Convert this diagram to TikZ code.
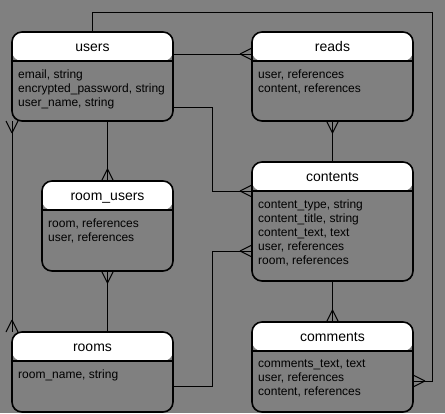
\documentclass[tikz,border=0pt]{standalone}
\usepackage{fontspec}
\setmainfont{Liberation Sans}
\definecolor{bggray}{RGB}{128,128,128}
\tikzset{
	tbl/.style={draw, line width=1.6pt, rounded corners=10pt, anchor=north west, inner sep=0pt, outer sep=0pt, minimum width=161pt,
		path picture={
			\fill[white] (path picture bounding box.north west) rectangle ([yshift=-29pt]path picture bounding box.north east);
			\draw[line width=1.6pt] ([yshift=-29pt]path picture bounding box.north west) -- ([yshift=-29pt]path picture bounding box.north east);
		}},
	ttl/.style={anchor=base, inner sep=0pt, font=\fontsize{14}{17}\selectfont},
	fld/.style={anchor=north west, align=left, inner sep=0pt, font=\fontsize{12}{14}\selectfont},
	link/.style={line width=1pt},
	crow/.pic={\draw[line width=1pt] (-12,0) -- (0,6) (-12,0) -- (0,-6);}
}
\begin{document}
\begin{tikzpicture}[x=1pt, y=-1pt]
		\fill[bggray] (0,0) rectangle (445,413);
		
		\node[tbl, minimum height=89pt] (users) at (12,32) {};
		\node[tbl, minimum height=89pt] (reads) at (252,32) {};
		\node[tbl, minimum width=131pt, minimum height=90pt] (roomusers) at (42,181) {};
		\node[tbl, minimum height=119pt] (contents) at (252,162) {};
		\node[tbl, minimum height=80pt] (rooms) at (12,332) {};
		\node[tbl, minimum height=90pt] (comments) at (252,322) {};
		
		\node[ttl] (usersT) at ([yshift=-19pt]users.north) {users};
		\node[ttl] (readsT) at ([yshift=-19pt]reads.north) {reads};
		\node[ttl] (roomusersT) at ([yshift=-19pt]roomusers.north) {room\_users};
		\node[ttl] (contentsT) at ([yshift=-19pt]contents.north) {contents};
		\node[ttl] (roomsT) at ([yshift=-19pt]rooms.north) {rooms};
		\node[ttl] (commentsT) at ([yshift=-19pt]comments.north) {comments};
		
		\node[fld] (usersF) at ([shift={(6pt,-37.9pt)}]users.north west) {email, string\\encrypted\_password, string\\user\_name, string};
		\node[fld] (readsF) at ([shift={(6pt,-37.9pt)}]reads.north west) {user, references\\content, references};
		\node[fld] (roomusersF) at ([shift={(6pt,-37.9pt)}]roomusers.north west) {room, references\\user, references};
		\node[fld] (contentsF) at ([shift={(6pt,-37.9pt)}]contents.north west) {content\_type, string\\content\_title, string\\content\_text, text\\user, references\\room, references};
		\node[fld] (roomsF) at ([shift={(6pt,-37.9pt)}]rooms.north west) {room\_name, string};
		\node[fld] (commentsF) at ([shift={(6pt,-37.9pt)}]comments.north west) {comments\_text, text\\user, references\\content, references};
		
		\coordinate (corner) at (432,12);
		
		\draw[link] (users.north) |- (corner) |- ([yshift=-14pt]comments.east);
		\draw[link] ([yshift=22.5pt]users.east) -- ([yshift=22.5pt]reads.west);
		\draw[link] ([yshift=-30.5pt]users.east) -- ++(39,0) |- ([yshift=30.5pt]contents.west);
		\draw[link] (users.south -| roomusers.north) -- (roomusers.north);
		\draw[link] (users.south west) -- (rooms.north west);
		\draw[link] (roomusers.south) -- (roomusers.south |- rooms.north);
		\draw[link] (reads.south) -- (contents.north);
		\draw[link] ([yshift=-14pt]rooms.east) -- ++(39,0) |- ([yshift=-29.5pt]contents.west);
		\draw[link] (contents.south) -- (comments.north);
		
		\pic[rotate=180] at ([yshift=-14pt]comments.east) {crow};
		\pic at ([yshift=22.5pt]reads.west) {crow};
		\pic at ([yshift=30.5pt]contents.west) {crow};
		\pic[rotate=-90] at (roomusers.north) {crow};
		\pic[rotate=90] at (users.south west) {crow};
		\pic[rotate=-90] at (rooms.north west) {crow};
		\pic[rotate=90] at (roomusers.south) {crow};
		\pic[rotate=90] at (reads.south) {crow};
		\pic at ([yshift=-29.5pt]contents.west) {crow};
		\pic[rotate=-90] at (comments.north) {crow};
		
	\end{tikzpicture}
\end{document}
